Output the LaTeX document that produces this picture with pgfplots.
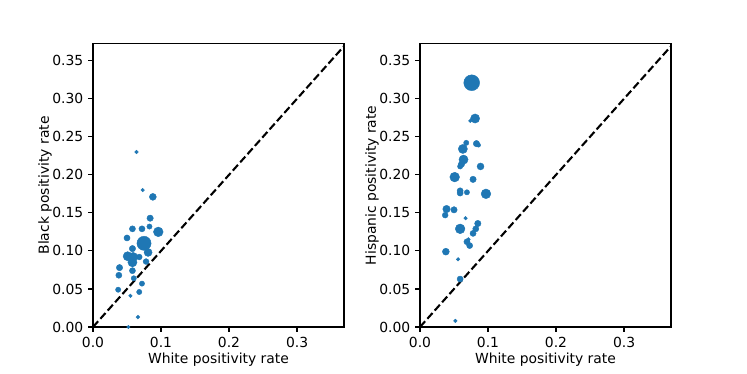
\documentclass[border=0pt]{standalone}
\usepackage{fontspec}
\setmainfont{DejaVu Sans}
\usepackage{pgfplots}
\pgfplotsset{compat=1.18}
\usepackage{pgfplotstable}
\definecolor{tabblue}{HTML}{1F77B4}

\pgfplotstableread{
x y s
0.064 0.230 1.3
0.073 0.180 1.3
0.088 0.171 2.5
0.084 0.143 2.3
0.058 0.129 2.2
0.072 0.129 2.2
0.083 0.132 1.9
0.096 0.125 3.5
0.050 0.117 2.2
0.075 0.110 5.1
0.058 0.103 2.3
0.081 0.098 2.9
0.051 0.093 3.3
0.059 0.092 3.3
0.058 0.085 3.3
0.068 0.092 2.1
0.078 0.086 2.1
0.039 0.078 2.3
0.038 0.068 2.2
0.058 0.074 2.2
0.060 0.064 1.9
0.072 0.057 1.9
0.037 0.049 1.9
0.068 0.046 1.9
0.055 0.041 1.3
0.066 0.013 1.4
0.052 0.000 1.2
}\blackdata

\pgfplotstableread{
x y s
0.076 0.321 5.7
0.081 0.274 3.3
0.074 0.271 1.3
0.068 0.242 1.9
0.063 0.234 3.3
0.083 0.241 2.3
0.086 0.239 1.5
0.064 0.220 3.3
0.061 0.214 2.3
0.059 0.211 1.9
0.089 0.211 2.5
0.051 0.197 3.5
0.078 0.194 2.3
0.059 0.179 2.2
0.059 0.176 2.2
0.069 0.177 1.9
0.097 0.175 3.5
0.039 0.155 2.7
0.037 0.147 2.1
0.050 0.154 2.3
0.067 0.143 1.3
0.059 0.129 3.5
0.085 0.136 2.3
0.082 0.129 2.2
0.078 0.123 2.2
0.069 0.112 2.2
0.071 0.115 1.4
0.073 0.107 2.2
0.038 0.099 2.5
0.056 0.089 1.3
0.059 0.063 2.2
0.052 0.008 1.3
}\hispdata

\pgfplotsset{
  myaxis/.style={
    scale only axis,
    width=180.7pt, height=203.8pt,
    xmin=0, xmax=0.369, ymin=0, ymax=0.372,
    xtick={0,0.1,0.2,0.3},
    ytick={0,0.05,0.1,0.15,0.2,0.25,0.3,0.35},
    xticklabel style={/pgf/number format/.cd,fixed,fixed zerofill,precision=1},
    yticklabel style={/pgf/number format/.cd,fixed,fixed zerofill,precision=2},
    /pgf/number format/assume math mode=true,
    tick align=outside,
    tick pos=left,
    major tick length=3.5pt,
    tick style={line width=0.8pt, black},
    axis line style={line width=0.8pt},
    every tick label/.append style={font=\fontsize{10}{12}\selectfont},
    label style={font=\fontsize{10}{12}\selectfont},
    xlabel={White positivity rate},
    xlabel style={yshift=3pt},
    ylabel style={yshift=-6.5pt},
    clip=true,
  },
  myscatter/.style={
    only marks, mark=*,
    mark options={fill=tabblue, draw=tabblue, line width=0.3pt},
    visualization depends on={\thisrow{s} \as \msz},
    scatter, scatter/use mapped color={draw=tabblue, fill=tabblue},
    scatter/@pre marker code/.append code={\pgfplotsset{mark size=\msz}},
  }
}

\begin{document}
\begin{tikzpicture}
\path[use as bounding box] (0,0) rectangle (537.84pt,269.28pt);
\begin{axis}[myaxis, at={(66.96pt,33.84pt)}, anchor=south west,
  ylabel={Black positivity rate}]
\addplot[black, line width=1.5pt, dash pattern=on 5.55pt off 2.4pt] coordinates {(0,0) (0.4,0.4)};
\addplot[myscatter] table[x=x, y=y] {\blackdata};
\end{axis}
\begin{axis}[myaxis, at={(302.4pt,33.84pt)}, anchor=south west,
  ylabel={Hispanic positivity rate}]
\addplot[black, line width=1.5pt, dash pattern=on 5.55pt off 2.4pt] coordinates {(0,0) (0.4,0.4)};
\addplot[myscatter] table[x=x, y=y] {\hispdata};
\end{axis}
\end{tikzpicture}
\end{document}
